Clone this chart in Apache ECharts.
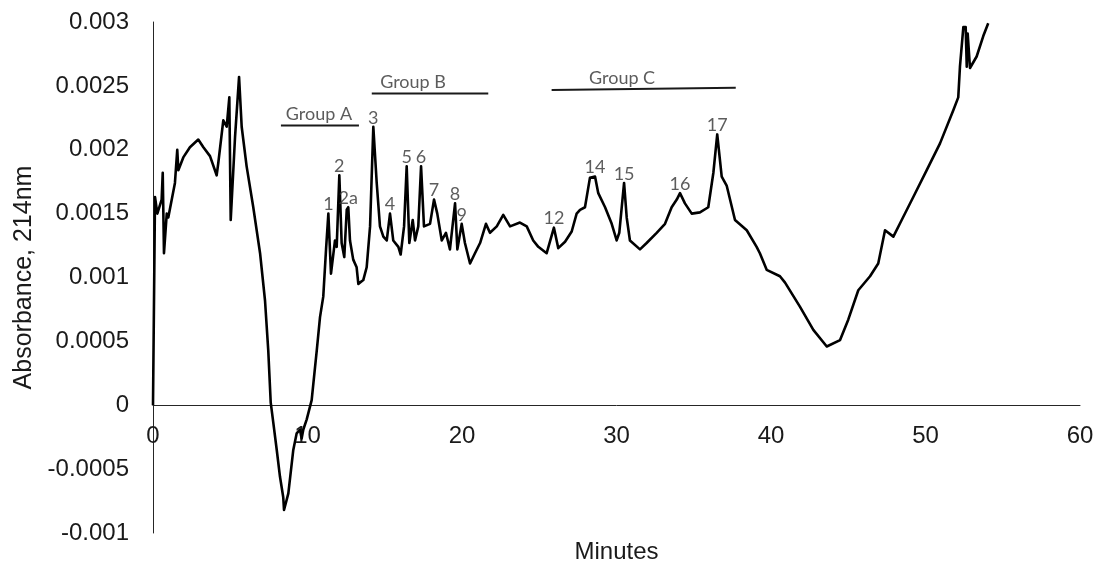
<!DOCTYPE html>
<html>
<head>
<meta charset="utf-8">
<title>Absorbance chromatogram</title>
<script src="https://cdn.jsdelivr.net/npm/echarts@6/dist/echarts.min.js"></script>
<style>
  html, body { margin: 0; padding: 0; background: #fff; }
  #chart { width: 1103px; height: 569px; }
</style>
</head>
<body>
<div id="chart"></div>
<script>
// Retention time (minutes) and absorbance at 214 nm
const timeMin = [
  0, 0.13, 0.28, 0.56, 0.63, 0.71, 0.89, 0.99, 1.42, 1.57, 1.64, 1.96, 2.39, 2.93, 3.26, 3.69,
  4.12, 4.23, 4.55, 4.77, 4.94, 5.03, 5.31, 5.57, 5.74, 6.06, 6.49, 6.93, 7.25, 7.46, 7.62, 7.79,
  8.01, 8.22, 8.43, 8.48, 8.76, 9.08, 9.30, 9.51, 9.62, 9.73, 9.95, 10.27, 10.49, 10.60, 10.81, 11.02,
  11.20, 11.35, 11.52, 11.78, 11.89, 12.06, 12.21, 12.38, 12.54, 12.64, 12.75, 12.96, 13.18, 13.29, 13.61, 13.83,
  14.05, 14.26, 14.48, 14.69, 14.91, 15.13, 15.34, 15.55, 15.88, 16.03, 16.25, 16.42, 16.59, 16.81, 16.96, 17.17,
  17.35, 17.54, 17.93, 18.19, 18.40, 18.69, 18.96, 19.22, 19.55, 19.70, 19.98, 20.19, 20.52, 20.84, 21.17, 21.55,
  21.81, 22.25, 22.67, 23.11, 23.75, 24.19, 24.61, 24.94, 25.48, 25.95, 26.23, 26.67, 27.10, 27.42, 27.64, 27.96,
  28.28, 28.61, 28.82, 29.26, 29.69, 30.01, 30.18, 30.49, 30.66, 30.87, 31.52, 31.95, 32.60, 33.14, 33.57, 33.90,
  34.11, 34.43, 34.87, 35.40, 35.94, 36.27, 36.52, 36.81, 37.13, 37.67, 38.43, 39.07, 39.28, 39.72, 40.58, 40.91,
  41.88, 42.74, 43.61, 44.47, 45.00, 45.65, 46.41, 46.94, 47.38, 47.92, 48.46, 49.21, 50.08, 50.94, 51.80, 52.12,
  52.23, 52.45, 52.60, 52.67, 52.73, 52.88, 53.31, 53.74, 54.06
];
const absorbance = [
  0, 0.00163, 0.00150, 0.00161, 0.00182, 0.00119, 0.00150, 0.00147, 0.00174, 0.00200, 0.00184, 0.00194, 0.00202, 0.00208, 0.00202, 0.00195,
  0.00180, 0.00190, 0.00223, 0.00218, 0.00241, 0.00145, 0.00210, 0.00257, 0.00218, 0.00187, 0.00155, 0.00119, 0.00082, 0.00043, 0.00002, -0.00014,
  -0.00035, -0.00056, -0.00072, -0.00082, -0.00069, -0.00035, -0.00022, -0.00019, -0.00026, -0.00019, -0.00011, 0.00004, 0.00030, 0.00043, 0.00069, 0.00085,
  0.00122, 0.00150, 0.00103, 0.00129, 0.00124, 0.00180, 0.00127, 0.00116, 0.00153, 0.00155, 0.00129, 0.00114, 0.00108, 0.00095, 0.00098, 0.00108,
  0.00140, 0.00218, 0.00174, 0.00140, 0.00132, 0.00129, 0.00150, 0.00129, 0.00124, 0.00118, 0.00140, 0.00187, 0.00127, 0.00145, 0.00129, 0.00140,
  0.00187, 0.00140, 0.00142, 0.00161, 0.00150, 0.00129, 0.00135, 0.00122, 0.00158, 0.00122, 0.00142, 0.00127, 0.00111, 0.00119, 0.00127, 0.00142,
  0.00135, 0.00140, 0.00149, 0.00140, 0.00143, 0.00140, 0.00129, 0.00124, 0.00119, 0.00139, 0.00123, 0.00128, 0.00136, 0.00150, 0.00153, 0.00155,
  0.00178, 0.00179, 0.00166, 0.00155, 0.00142, 0.00129, 0.00135, 0.00174, 0.00147, 0.00129, 0.00122, 0.00127, 0.00135, 0.00142, 0.00155, 0.00161,
  0.00166, 0.00158, 0.00150, 0.00151, 0.00155, 0.00182, 0.00212, 0.00179, 0.00172, 0.00145, 0.00137, 0.00124, 0.00119, 0.00106, 0.00101, 0.00096,
  0.00077, 0.00059, 0.00046, 0.00051, 0.00067, 0.00090, 0.00101, 0.00111, 0.00137, 0.00132, 0.00145, 0.00163, 0.00184, 0.00205, 0.00231, 0.00241,
  0.00265, 0.00296, 0.00296, 0.00265, 0.00291, 0.00264, 0.00273, 0.00289, 0.00299
];

// Numbered peaks
const peakNames = ['1', '2', '2a', '3', '4', '5', '6', '7', '8', '9', '12', '14', '15', '16', '17'];
const peakTimes = [11.35, 12.06, 12.64, 14.26, 15.34, 16.42, 17.35, 18.19, 19.55, 19.98, 25.95, 28.61, 30.49, 34.11, 36.52];
const peakValues = [0.00150, 0.00180, 0.00155, 0.00218, 0.00150, 0.00187, 0.00187, 0.00161, 0.00158, 0.00142, 0.00139, 0.00179, 0.00174, 0.00166, 0.00212];

// Fraction groups: bar start/end (minutes, absorbance) and caption position
const groupNames = ['Group A', 'Group B', 'Group C'];
const groupStartTime = [8.28, 14.16, 25.80];
const groupEndTime = [13.33, 21.70, 37.72];
const groupStartLevel = [0.00219, 0.00244, 0.002468];
const groupEndLevel = [0.00219, 0.00244, 0.002486];
const groupCaptionTime = [10.74, 16.83, 30.36];

// Axis ticks
const xTicks = { min: 0, max: 60, interval: 10 };
const yTicks = { min: -0.001, max: 0.003, interval: 0.0005 };

const W = 1103, H = 569;
const gridBox = { left: 153, right: 23, top: 22, bottom: 36 };
const plotHeight = H - gridBox.top - gridBox.bottom;
// the time axis sits on the zero absorbance line, so lift it from the grid bottom
const zeroLift = plotHeight * (0 - yTicks.min) / (yTicks.max - yTicks.min);

const chart = echarts.init(document.getElementById('chart'), null, { renderer: 'canvas' });

const traceData = timeMin.map((t, i) => [t, absorbance[i]]);
const peakData = peakNames.map((n, i) => ({ value: [peakTimes[i], peakValues[i]], name: n }));

const labelFont = 'Lato, "Open Sans", sans-serif';
const axisFont = '"Liberation Sans", Arial, sans-serif';

const groupSeries = groupNames.map((g, i) => ({
  type: 'line',
  silent: true,
  symbol: 'none',
  lineStyle: { color: '#1a1a1a', width: 2 },
  data: [[groupStartTime[i], groupStartLevel[i]], [groupEndTime[i], groupEndLevel[i]]],
  z: 3
}));

const groupCaptionData = groupNames.map((g, i) => {
  const frac = (groupCaptionTime[i] - groupStartTime[i]) / (groupEndTime[i] - groupStartTime[i]);
  const lvl = groupStartLevel[i] + frac * (groupEndLevel[i] - groupStartLevel[i]);
  return { value: [groupCaptionTime[i], lvl], name: g };
});

chart.setOption({
  animation: false,
  backgroundColor: '#ffffff',
  grid: Object.assign({ containLabel: false, outerBoundsMode: 'none' }, gridBox),
  xAxis: {
    type: 'value',
    min: xTicks.min, max: xTicks.max, interval: xTicks.interval,
    offset: -zeroLift,
    name: 'Minutes',
    nameLocation: 'middle',
    nameGap: 135,
    nameTextStyle: { fontFamily: axisFont, fontSize: 24, color: '#1a1a1a' },
    axisLine: { onZero: false, lineStyle: { color: '#262626', width: 1 } },
    axisTick: { show: false },
    splitLine: { show: false },
    axisLabel: { fontFamily: axisFont, fontSize: 24, color: '#1a1a1a', margin: 19 }
  },
  yAxis: {
    type: 'value',
    min: yTicks.min, max: yTicks.max, interval: yTicks.interval,
    name: 'Absorbance, 214nm',
    nameLocation: 'middle',
    nameGap: 106,
    nameRotate: 90,
    nameTextStyle: { fontFamily: axisFont, fontSize: 25, color: '#1a1a1a' },
    axisLine: { show: true, onZero: false, lineStyle: { color: '#262626', width: 1 } },
    axisTick: { show: false },
    splitLine: { show: false },
    axisLabel: {
      fontFamily: axisFont, fontSize: 24, color: '#1a1a1a', margin: 24,
      formatter: v => String(parseFloat(v.toFixed(4)))
    }
  },
  series: [
    {
      type: 'line',
      name: 'A214',
      data: traceData,
      symbol: 'none',
      silent: true,
      lineStyle: { color: '#000000', width: 2.6, join: 'round' },
      z: 4
    },
    ...groupSeries,
    {
      type: 'scatter',
      name: 'groups',
      silent: true,
      symbolSize: 0,
      data: groupCaptionData,
      label: {
        show: true, position: 'top', distance: 2,
        formatter: p => p.name,
        fontFamily: labelFont, fontSize: 18, color: '#333333'
      },
      z: 5
    },
    {
      type: 'scatter',
      name: 'peaks',
      silent: true,
      symbolSize: 0,
      data: peakData,
      label: {
        show: true, position: 'top', distance: 0,
        formatter: p => p.name,
        fontFamily: labelFont, fontSize: 18, color: '#333333'
      },
      z: 5
    }
  ]
});
</script>
</body>
</html>
